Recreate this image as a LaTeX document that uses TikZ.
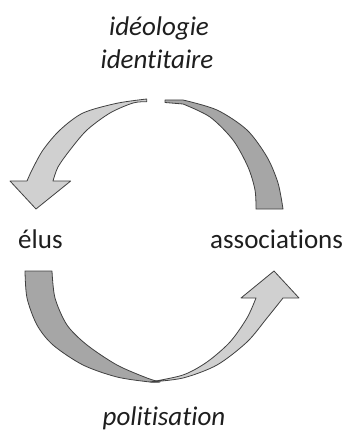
\documentclass[tikz,border=0pt]{standalone}
\usepackage{fontspec}
\setmainfont{Carlito}[Ligatures=NoCommon]
\definecolor{lightfill}{HTML}{D0D0D0}
\definecolor{darkfill}{HTML}{A6A6A6}
\definecolor{edge}{HTML}{404040}
\definecolor{txt}{HTML}{1E1E1E}
\begin{document}
\begin{tikzpicture}[x=1pt,y=-1pt,
  lightband/.style={fill=lightfill,draw=edge,line width=0.8pt,line join=round},
  darkband/.style={fill=darkfill,draw=edge,line width=0.8pt,line join=round},
  lbl/.style={inner sep=0pt,anchor=base,text=txt,font=\fontsize{27}{32}\selectfont},
  ilbl/.style={lbl,font=\fontsize{27}{32}\selectfont\itshape}]
\useasboundingbox (0,0) rectangle (348,435);
% top dark band
\path[darkband] (165,100) -- plot[smooth] coordinates {(183,100) (217,110) (247,130) (267,157) (278,183) (283,209)}
  -- (256,209) -- plot[smooth] coordinates {(256,209) (255,190) (248,167) (233,140) (210,117) (183,104)} -- (165,102.5) -- cycle;
% top light arrow
\path[lightband] (146.7,99) -- plot[smooth] coordinates {(146.7,99) (116.7,103.3) (83,113) (60,130) (43,150) (32,170) (27,181)}
  -- (10,181) -- (36,209) -- (70.7,181) -- plot[smooth] coordinates {(53,181) (58,167) (70,150) (87,130) (110,113) (133,103) (146.7,101.7)} -- cycle;
% bottom dark band
\path[darkband] (25,271) -- (52,271) -- plot[smooth] coordinates {(52,271) (55,298) (67,325) (87,345) (117,365) (147,378) (160,382)}
  -- plot[smooth] coordinates {(160,382) (150,382) (117,377) (83,365) (53,345) (37,325) (27,298) (25,271)} -- cycle;
% bottom light arrow
\path[lightband] (150,382) -- plot[smooth] coordinates {(150,382) (183,378) (217,365) (247,342) (267,318) (283,298)}
  -- (299,298) -- (274,271) -- (241,298) -- plot[smooth] coordinates {(256,298) (247,318) (230,342) (207,362) (183,375) (150,382)} -- cycle;
% labels
\node[ilbl] (ideo) at (159,36) {idéologie};
\node[ilbl] (ident) at (157,69) {identitaire};
\node[lbl,anchor=base west] (elus) at (18,248) {élus};
\node[lbl,anchor=base west] (assoc) at (210,248) {associations};
\node[ilbl] (polit) at (164,425) {politisation};
\end{tikzpicture}
\end{document}
